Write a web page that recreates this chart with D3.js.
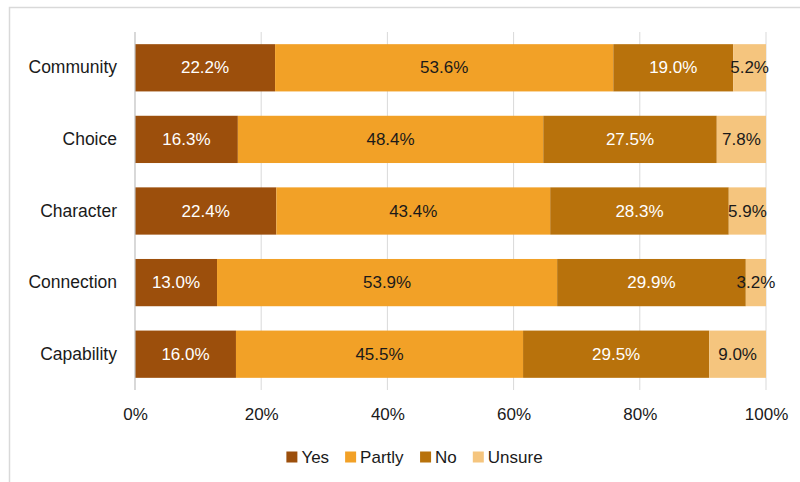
<!DOCTYPE html>
<html>
<head>
<meta charset="utf-8">
<script src="https://cdn.jsdelivr.net/npm/d3@7"></script>
<style>
  html, body { margin: 0; padding: 0; background: #fff; }
  svg { display: block; font-family: "Liberation Sans", Arial, Helvetica, sans-serif; }
</style>
</head>
<body>
<svg id="chart" width="800" height="482"></svg>
<script>
// Survey responses per dimension (percent of respondents)
const categories = ["Community", "Choice", "Character", "Connection", "Capability"];
const seriesNames = ["Yes", "Partly", "No", "Unsure"];
const yesValues    = [22.2, 16.3, 22.4, 13.0, 16.0];
const partlyValues = [53.6, 48.4, 43.4, 53.9, 45.5];
const noValues     = [19.0, 27.5, 28.3, 29.9, 29.5];
const unsureValues = [5.2, 7.8, 5.9, 3.2, 9.0];
const tickValues = [0, 20, 40, 60, 80, 100];

const colors = ["#9c4f0c", "#f2a127", "#b8720c", "#f5c57e"];
const labelColors = ["#ffffff", "#1a1a1a", "#ffffff", "#1a1a1a"];
const FONT = "'Liberation Sans', Arial, Helvetica, sans-serif";

const rows = categories.map((c, i) => ({
  category: c,
  Yes: yesValues[i], Partly: partlyValues[i], No: noValues[i], Unsure: unsureValues[i]
}));

const svg = d3.select("#chart");

// outer frame
svg.append("rect")
  .attr("x", 9.5).attr("y", 7.5)
  .attr("width", 820).attr("height", 500)
  .attr("fill", "none").attr("stroke", "#d9d9d9").attr("stroke-width", 1.5);

const x = d3.scaleLinear().domain([0, 100]).range([135, 766]);
const y = d3.scaleBand().domain(categories).range([32, 390])
  .paddingInner(0.34).paddingOuter(0.17);

// vertical gridlines
svg.append("g").selectAll("line")
  .data(tickValues.slice(1))
  .join("line")
  .attr("x1", d => x(d)).attr("x2", d => x(d))
  .attr("y1", 32).attr("y2", 390)
  .attr("stroke", "#d9d9d9").attr("stroke-width", 1);

const stacked = d3.stack().keys(seriesNames)(rows);

svg.append("g").selectAll("g")
  .data(stacked)
  .join("g")
  .attr("fill", (d, i) => colors[i])
  .selectAll("rect")
  .data(d => d)
  .join("rect")
  .attr("x", d => x(d[0]))
  .attr("width", d => x(d[1]) - x(d[0]))
  .attr("y", d => y(d.data.category))
  .attr("height", y.bandwidth());

// value labels centred in each segment
svg.append("g").selectAll("g")
  .data(stacked)
  .join("g")
  .attr("fill", (d, i) => labelColors[i])
  .selectAll("text")
  .data(d => d.map(v => ({ v, key: d.key })))
  .join("text")
  .attr("x", d => x((d.v[0] + d.v[1]) / 2))
  .attr("y", d => y(d.v.data.category) + y.bandwidth() / 2)
  .attr("text-anchor", "middle")
  .attr("dominant-baseline", "central")
  .attr("font-size", 17)
  .text(d => d.v.data[d.key].toFixed(1) + "%");

// left axis line
svg.append("line")
  .attr("x1", x(0)).attr("x2", x(0))
  .attr("y1", 32).attr("y2", 390)
  .attr("stroke", "#bfbfbf").attr("stroke-width", 1.2);

// category labels
const yAxis = svg.append("g")
  .attr("transform", `translate(${x(0)},0)`)
  .call(d3.axisLeft(y).tickSize(0).tickPadding(18));
yAxis.select(".domain").remove();
yAxis.selectAll("text")
  .attr("font-size", 17.5)
  .attr("font-family", FONT)
  .attr("fill", "#1a1a1a");

// percentage axis
const xAxis = svg.append("g")
  .attr("transform", "translate(0,390)")
  .call(d3.axisBottom(x).tickValues(tickValues).tickSize(0).tickPadding(18)
    .tickFormat(d => d + "%"));
xAxis.select(".domain").remove();
xAxis.selectAll("text")
  .attr("font-size", 17)
  .attr("font-family", FONT)
  .attr("fill", "#1a1a1a");

// legend
const legendItems = seriesNames.map((name, i) => ({ name, color: colors[i] }));
const legend = svg.append("g");
const entries = legend.selectAll("g")
  .data(legendItems)
  .join("g");
entries.append("rect")
  .attr("width", 11).attr("height", 11)
  .attr("y", -5.5)
  .attr("fill", d => d.color);
entries.append("text")
  .attr("x", 15)
  .attr("dominant-baseline", "central")
  .attr("font-size", 17)
  .attr("fill", "#1a1a1a")
  .text(d => d.name);

let offset = 0;
entries.each(function() {
  const w = this.getBBox().width;
  d3.select(this).attr("transform", `translate(${offset},0)`);
  offset += w + 16;
});
const total = offset - 16;
legend.attr("transform", `translate(${414.5 - total / 2},457)`);
</script>
</body>
</html>
